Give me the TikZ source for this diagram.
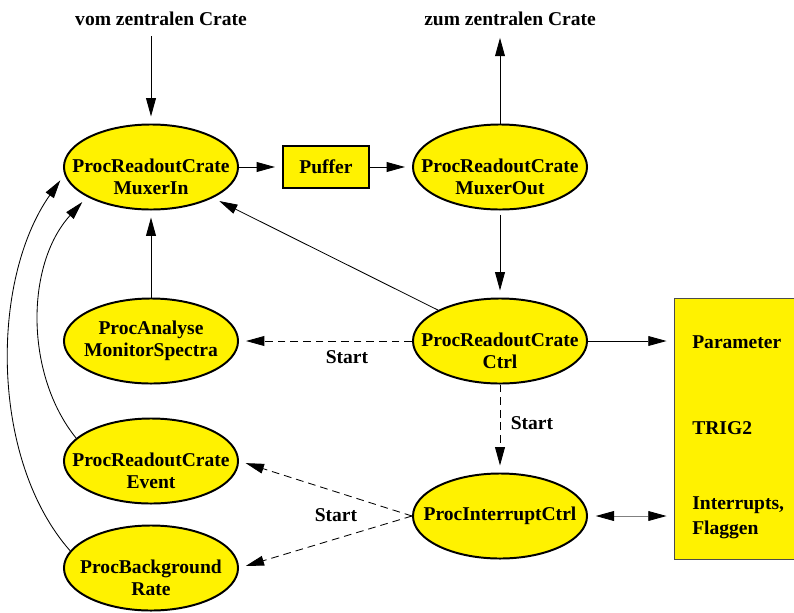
\documentclass[tikz,border=0pt]{standalone}
\usepackage{fontspec}
\setmainfont{Liberation Serif}
\usetikzlibrary{arrows.meta}
\usetikzlibrary{shapes.geometric}

\begin{document}
\begin{tikzpicture}[x=0.025cm,y=-0.025cm]
\tikzstyle{every node}=[font=\bfseries\fontsize{13.9}{15.6}\selectfont]
\tikzstyle{proc}=[ellipse, draw, line width=1.4pt, fill=yellow, minimum width=4.35cm, minimum height=2.125cm, inner sep=0pt]
\tikzstyle{ptext}=[align=center]
\tikzstyle{lowtext}=[align=center, yshift=-0.25cm]
\tikzstyle{arr}=[-{Triangle[length=13pt,width=7pt]}, line width=0.6pt, shorten >=5pt]
\tikzstyle{startarr}=[arr, dash pattern=on 5.5pt off 3.5pt]
\useasboundingbox (0,0) rectangle (794,612);

% von und zum zentralen Crate
\node (vom) at (161,19) {vom zentralen Crate};
\node (zum) at (510,19) {zum zentralen Crate};

% Prozesse
\node[proc, label={[lowtext]center:ProcReadoutCrate\\MuxerIn}] (muxin) at (151,167) {};
\node[draw, line width=1.4pt, fill=yellow, minimum width=2.15cm, minimum height=1.05cm] (puffer) at (326,167) {Puffer};
\node[proc, label={[lowtext]center:ProcReadoutCrate\\MuxerOut}] (muxout) at (500,167) {};
\node[proc, label={[lowtext]center:ProcReadoutCrate\\Ctrl}] (ctrl) at (500,341) {};
\node[proc, label={[ptext]center:ProcAnalyse\\MonitorSpectra}] (analyse) at (151,341) {};
\node[proc, label={[lowtext]center:ProcReadoutCrate\\Event}] (event) at (151,461) {};
\node[proc, label={[lowtext]center:ProcBackground\\Rate}] (bg) at (151,568) {};
\node[proc, label={[ptext]center:ProcInterruptCtrl}] (intr) at (500,516) {};

% Hardware
\node[draw=black!70, line width=0.6pt, fill=yellow, minimum width=3.15cm, minimum height=6.525cm] (sig) at (737,428.5) {};
\node[anchor=west, inner sep=0pt] (param) at (692,342) {Parameter};
\node[anchor=west, inner sep=0pt] (trig) at (692,428) {TRIG2};
\node[anchor=west, inner sep=0pt, align=left] (flags) at (692,518) {Interrupts,\\[2pt]Flaggen};

% Datenfluss
\draw[arr, shorten <=4pt] (vom.south -| muxin.north) -- (muxin);
\draw[arr] (muxout) -- (muxout |- zum.south);
\draw[arr] (muxin) -- (puffer);
\draw[arr] (puffer) -- (muxout);
\draw[arr, shorten <=3pt] (muxout) -- (ctrl);
\draw[arr] (analyse) -- (muxin);
\draw[arr] (ctrl) -- (muxin);
\draw[arr] (ctrl) -- (ctrl -| sig.west);
\draw[arr] (event.163) .. controls (25,375) and (25,265) .. (muxin.205);
\draw[arr] (bg.168) .. controls (-10,460) and (-10,280) .. (muxin.185);
\draw[arr, gray, {Triangle[length=13pt,width=7pt,color=black]}-{Triangle[length=13pt,width=7pt,color=black]}, shorten <=5.5pt] (intr) -- (intr -| sig.west);

% Start
\draw[startarr] (ctrl) -- (analyse);
\draw[startarr] (ctrl) -- (intr);
\draw[startarr] (intr.west) -- (event.east);
\draw[startarr] (intr.west) -- (bg.east);
\node (start1) at (347,357) {Start};
\node (start2) at (532,423) {Start};
\node (start3) at (336,515) {Start};
\end{tikzpicture}
\end{document}
